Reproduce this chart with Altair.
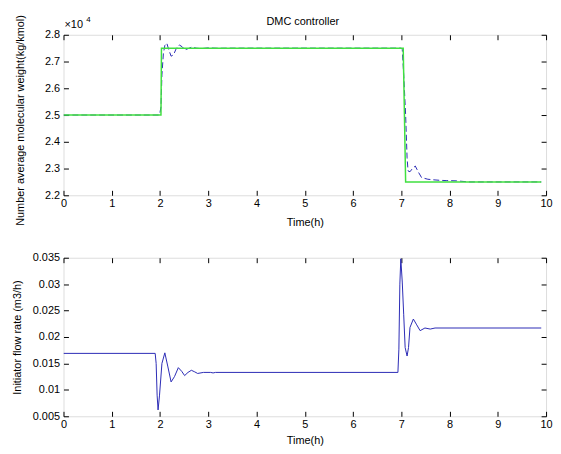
import altair as alt
import pandas as pd

# ---- data ----
# Top panel: number average molecular weight response (blue, dashed)
mw_time = [0, 1.98, 2.0, 2.02, 2.04, 2.07, 2.1, 2.14, 2.18, 2.23,
           2.28, 2.34, 2.4, 2.46, 2.52, 2.58, 2.66, 2.75, 2.85, 3.0,
           3.2, 3.4, 7.0, 7.02, 7.05, 7.09, 7.12, 7.14, 7.18, 7.23,
           7.29, 7.35, 7.42, 7.55, 7.66, 7.8, 7.93, 8.14, 8.4, 9.9]
mw_value = [25000, 25000, 25100, 25300, 26500, 27300, 27600, 27690, 27450, 27200,
            27250, 27500, 27620, 27550, 27440, 27480, 27540, 27500, 27480, 27510,
            27495, 27500, 27500, 27450, 26500, 25000, 23400, 22910, 22880, 23000,
            23094, 22880, 22663, 22600, 22580, 22560, 22550, 22540, 22500, 22500]

# Top panel: setpoint (green)
sp_time = [0, 2.02, 2.03, 7.04, 7.09, 9.9]
sp_value = [25000, 25000, 27500, 27500, 22500, 22500]

# Bottom panel: initiator flow rate (blue)
fr_time = [0, 1.9, 1.92, 1.94, 1.96, 1.99, 2.04, 2.1, 2.16, 2.23,
           2.3, 2.38, 2.45, 2.51, 2.58, 2.65, 2.72, 2.78, 2.9, 3.05,
           3.1, 3.15, 6.93, 6.95, 6.97, 6.99, 7.02, 7.05, 7.08, 7.12,
           7.15, 7.18, 7.25, 7.32, 7.39, 7.49, 7.6, 7.7, 9.9]
fr_value = [0.0169, 0.0169, 0.0150, 0.0090, 0.0062, 0.0090, 0.0150, 0.0170, 0.0145, 0.0115,
            0.0125, 0.0142, 0.0135, 0.0127, 0.0133, 0.0137, 0.0134, 0.0131, 0.0133, 0.0133,
            0.0132, 0.0133, 0.0133, 0.0177, 0.0300, 0.0348, 0.0304, 0.0242, 0.0180, 0.0164,
            0.0180, 0.0218, 0.0234, 0.0223, 0.0212, 0.0217, 0.0215, 0.0217, 0.0217]

x_ticks = [0, 1, 2, 3, 4, 5, 6, 7, 8, 9, 10]
mw_ticks = [22000, 23000, 24000, 25000, 26000, 27000, 28000]
fr_ticks = [0.005, 0.01, 0.015, 0.02, 0.025, 0.03, 0.035]

title_text = "DMC controller"
x_title = "Time(h)"
mw_title = "Number average molecular weight(kg/kmol)"
fr_title = "Initiator flow rate (m3/h)"
exp_base = "×10"
exp_power = "4"

# ---- styling ----
FONT = "Liberation Sans"
BLUE = "#2b2bb5"
GREEN = "#40e040"
W = 487

df_mw = pd.DataFrame({"t": mw_time, "v": mw_value})
df_sp = pd.DataFrame({"t": sp_time, "v": sp_value})
df_fr = pd.DataFrame({"t": fr_time, "v": fr_value})

xs = alt.Scale(domain=[0, 10], nice=False, zero=False)
ys_mw = alt.Scale(domain=[22000, 28000], nice=False, zero=False)
ys_fr = alt.Scale(domain=[0.005, 0.035], nice=False, zero=False)

common = dict(labelFont=FONT, labelFontSize=11, labelColor="black",
              titleFont=FONT, titleFontSize=11, titleFontWeight="normal", titleColor="black",
              tickColor="black", tickWidth=1, grid=False)


def x_main(title_y):
    return alt.Axis(orient="bottom", values=x_ticks, format="d", offset=-5, tickSize=5,
                    domain=False, labelPadding=2, labelFlush=False, title=x_title,
                    titleY=title_y, titleBaseline="middle", **common)


def y_main(values, label_expr, title, title_x, title_y):
    return alt.Axis(orient="left", values=values, labelExpr=label_expr, offset=-5, tickSize=5,
                    domain=False, labelPadding=4, labelFlush=False, title=title,
                    titleX=title_x, titleY=title_y, titleBaseline="middle", **common)


x_top = alt.Axis(orient="top", values=x_ticks, offset=-5, tickSize=5, domain=False,
                 labels=False, title=None, tickColor="black", grid=False)


def y_right(values):
    return alt.Axis(orient="right", values=values, offset=-5, tickSize=5, domain=False,
                    labels=False, title=None, tickColor="black", grid=False)


# ---- top panel ----
mw_line = alt.Chart(df_mw).mark_line(color=BLUE, strokeWidth=1, strokeDash=[6, 3], clip=True).encode(
    x=alt.X("t:Q", scale=xs, axis=x_main(32.5)),
    y=alt.Y("v:Q", scale=ys_mw,
            axis=y_main(mw_ticks, "format(datum.value / 10000, '.1f')", mw_title, -48, 86)),
)
sp_line = alt.Chart(df_sp).mark_line(color=GREEN, strokeWidth=1.5, clip=True).encode(
    x=alt.X("t:Q", scale=xs, axis=x_top),
    y=alt.Y("v:Q", scale=ys_mw, axis=y_right(mw_ticks)),
)
title_mark = alt.Chart(pd.DataFrame({"s": [title_text]})).mark_text(
    align="center", baseline="middle", fontSize=11, font=FONT, color="black"
).encode(text="s:N", x=alt.value(W / 2 - 2), y=alt.value(-13))
exp_mark = alt.Chart(pd.DataFrame({"s": [exp_base]})).mark_text(
    align="left", baseline="middle", fontSize=11, font=FONT, color="black"
).encode(text="s:N", x=alt.value(1), y=alt.value(-10))
pow_mark = alt.Chart(pd.DataFrame({"s": [exp_power]})).mark_text(
    align="left", baseline="middle", fontSize=8, font=FONT, color="black"
).encode(text="s:N", x=alt.value(23), y=alt.value(-14.5))

top = alt.layer(mw_line, sp_line, title_mark, exp_mark, pow_mark).resolve_axis(
    x="independent", y="independent"
).properties(width=W, height=162)

# ---- bottom panel ----
fr_line = alt.Chart(df_fr).mark_line(color=BLUE, strokeWidth=1, clip=True).encode(
    x=alt.X("t:Q", scale=xs, axis=x_main(29.5)),
    y=alt.Y("v:Q", scale=ys_fr,
            axis=y_main(fr_ticks, "format(datum.value, '~g')", fr_title, -51, 80)),
)
fr_ghost = alt.Chart(df_fr).mark_line(color=BLUE, strokeWidth=1, opacity=0, clip=True).encode(
    x=alt.X("t:Q", scale=xs, axis=x_top),
    y=alt.Y("v:Q", scale=ys_fr, axis=y_right(fr_ticks)),
)
bottom = alt.layer(fr_line, fr_ghost).resolve_axis(
    x="independent", y="independent"
).properties(width=W, height=160)

chart = alt.vconcat(top, bottom, spacing=63, bounds="flush").properties(
    padding={"left": 3, "top": 4, "right": 0, "bottom": 0}
).configure_view(
    stroke="black", strokeWidth=1
).configure_axis(
    titleFontWeight="normal", grid=False
).configure(background="white")

chart.save("out.html", embed_options={"renderer": "svg", "actions": False})
